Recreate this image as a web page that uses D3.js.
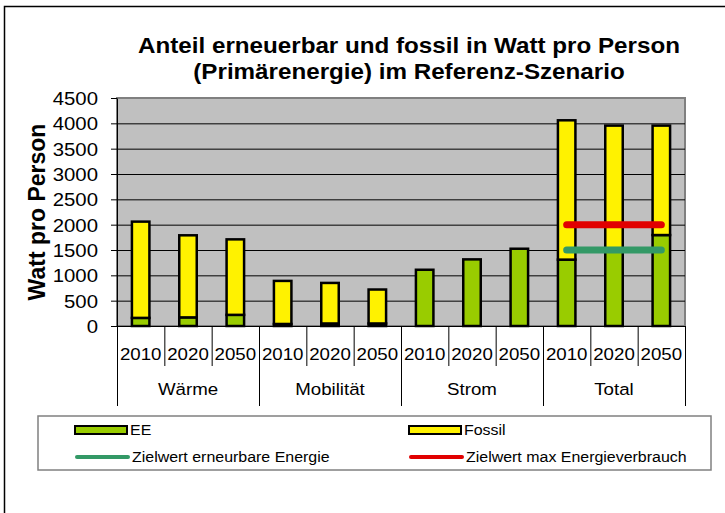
<!DOCTYPE html>
<html lang="de">
<head>
<meta charset="utf-8">
<title>Anteil erneuerbar und fossil in Watt pro Person</title>
<script src="https://cdn.jsdelivr.net/npm/d3@7"></script>
<style>
  body { margin: 0; background: #fff; }
  text { font-family: Arial, "Liberation Sans", sans-serif; fill: #000; }
</style>
</head>
<body>
<div id="chart"></div>
<script>
// Daten
var groups = ["Wärme", "Mobilität", "Strom", "Total"];
var years = ["2010", "2020", "2050"];
var eeValues = [160, 170, 220, 40, 50, 50, 1110, 1315, 1525, 1310, 1535, 1795];
var fossilValues = [1900, 1620, 1490, 850, 800, 670, 0, 0, 0, 2750, 2420, 2160];
var yTicks = [0, 500, 1000, 1500, 2000, 2500, 3000, 3500, 4000, 4500];
var zielGroup = "Total";
var zielEE = 1500;     // Zielwert erneuerbare Energie
var zielMax = 2000;    // Zielwert max Energieverbrauch
var legendLabels = ["EE", "Fossil", "Zielwert erneurbare Energie", "Zielwert max Energieverbrauch"];

var colEE = "#99cc00", colFossil = "#fff200", colZielEE = "#339966", colZielMax = "#e10000";

var W = 725, H = 513;
// Plotfläche (window.top ist reserviert, daher pTop usw.)
var pLeft = 117, pRight = 685, pTop = 98, pBottom = 326;
var SX = 1.1; // Schrift im Original leicht in die Breite gezogen

// Slots aufbauen
var slots = [];
groups.forEach(function(g, gi) {
  years.forEach(function(yr, yi) {
    var i = gi * years.length + yi;
    slots.push({ key: g + "|" + yr, group: g, year: yr, ee: eeValues[i], fossil: fossilValues[i] });
  });
});

var svg = d3.select("#chart").append("svg").attr("width", W).attr("height", H);

// Rahmen (rechts/unten ausserhalb des Bildes)
svg.append("rect").attr("x", 4.5).attr("y", 6.5).attr("width", 800).attr("height", 600)
  .attr("fill", "none").attr("stroke", "#000").attr("stroke-width", 1.5);

var x = d3.scaleBand().domain(slots.map(function(d) { return d.key; })).range([pLeft, pRight]);
var xb = d3.scaleLinear().domain([0, slots.length]).range([pLeft, pRight]);
var xg = d3.scaleBand().domain(groups).range([pLeft, pRight]);
var y = d3.scaleLinear().domain([0, 4500]).range([pBottom, pTop]);

// Plotfläche
svg.append("rect").attr("x", pLeft).attr("y", pTop).attr("width", pRight - pLeft).attr("height", pBottom - pTop)
  .attr("fill", "#c0c0c0").attr("stroke", "#808080").attr("stroke-width", 2);

// Gitterlinien
svg.append("g").attr("transform", "translate(" + pLeft + ",0)")
  .call(d3.axisLeft(y).tickValues(yTicks.filter(function(v) { return v > 0 && v < 4500; }))
    .tickSize(-(pRight - pLeft)).tickFormat(""))
  .call(function(g) { g.select(".domain").remove(); })
  .selectAll("line").attr("stroke", "#000").attr("stroke-width", 1);

// Balken
var bw = 17.5;
var bars = svg.append("g").selectAll("g").data(slots).enter().append("g");
bars.append("rect")
  .attr("x", function(d) { return x(d.key) + (x.bandwidth() - bw) / 2; })
  .attr("y", function(d) { return y(d.ee); })
  .attr("width", bw)
  .attr("height", function(d) { return y(0) - y(d.ee); })
  .attr("fill", colEE).attr("stroke", "#000").attr("stroke-width", 2.5);
bars.filter(function(d) { return d.fossil > 0; }).append("rect")
  .attr("x", function(d) { return x(d.key) + (x.bandwidth() - bw) / 2; })
  .attr("y", function(d) { return y(d.ee + d.fossil); })
  .attr("width", bw)
  .attr("height", function(d) { return y(d.ee) - y(d.ee + d.fossil); })
  .attr("fill", colFossil).attr("stroke", "#000").attr("stroke-width", 2.5);

// Zielwerte
var zielSlots = slots.filter(function(d) { return d.group == zielGroup; });
var zx1 = x(zielSlots[0].key) + x.bandwidth() / 2;
var zx2 = x(zielSlots[zielSlots.length - 1].key) + x.bandwidth() / 2;
[[zielMax, colZielMax], [zielEE, colZielEE]].forEach(function(z) {
  svg.append("line").attr("x1", zx1).attr("x2", zx2).attr("y1", y(z[0])).attr("y2", y(z[0]))
    .attr("stroke", z[1]).attr("stroke-width", 7).attr("stroke-linecap", "round");
});

// Y-Achse
svg.append("g").attr("transform", "translate(" + pLeft + ",0)")
  .call(d3.axisLeft(y).tickValues(yTicks).tickSize(6).tickSizeOuter(0).tickFormat(d3.format("d")))
  .call(function(g) {
    g.selectAll("line, path").attr("stroke", "#000");
    g.selectAll("text").attr("x", 0).attr("dy", "0.35em")
      .attr("transform", "translate(-19,0) scale(" + SX + ",1)")
      .style("font-size", "18.5px").attr("fill", "#000");
  });

// X-Achse: Trennstriche
svg.append("g").attr("transform", "translate(0," + pBottom + ")")
  .call(d3.axisBottom(xb).tickValues(d3.range(0, slots.length + 1)).tickSize(40).tickSizeOuter(0).tickFormat(""))
  .selectAll("line, path").attr("stroke", "#000");
svg.append("g").attr("transform", "translate(0," + pBottom + ")")
  .call(d3.axisBottom(xb).tickValues(d3.range(0, slots.length + 1, years.length)).tickSize(80).tickSizeOuter(0).tickFormat(""))
  .call(function(g) { g.select(".domain").remove(); })
  .selectAll("line").attr("stroke", "#000");

// Jahreszahlen
svg.append("g").attr("transform", "translate(0," + pBottom + ")")
  .call(d3.axisBottom(x).tickSize(0).tickFormat(function(k) { return k.split("|")[1]; }))
  .call(function(g) {
    g.select(".domain").remove();
    g.selectAll("text").attr("y", 0).attr("dy", 0)
      .attr("transform", "translate(0,34) scale(" + SX + ",1)")
      .style("font-size", "17px").attr("fill", "#000");
  });

// Gruppen
svg.append("g").attr("transform", "translate(0," + pBottom + ")")
  .call(d3.axisBottom(xg).tickSize(0))
  .call(function(g) {
    g.select(".domain").remove();
    g.selectAll("text").attr("y", 0).attr("dy", 0)
      .attr("transform", "translate(0,69) scale(" + SX + ",1)")
      .style("font-size", "17px").attr("fill", "#000");
  });

// Titel
var titleLines = ["Anteil erneuerbar und fossil in Watt pro Person", "(Primärenergie) im Referenz-Szenario"];
svg.selectAll("text.title").data(titleLines).enter().append("text").attr("class", "title")
  .attr("transform", function(d, i) { return "translate(409," + (53 + i * 26) + ") scale(" + SX + ",1)"; })
  .attr("text-anchor", "middle").style("font-size", "22px").style("font-weight", "bold")
  .text(function(d) { return d; });

// Y-Titel
svg.append("text")
  .attr("transform", "translate(45," + ((pTop + pBottom) / 2) + ") rotate(-90)")
  .attr("text-anchor", "middle").style("font-size", "23px").style("font-weight", "bold")
  .text("Watt pro Person");

// Legende
svg.append("rect").attr("x", 38).attr("y", 416).attr("width", 711 - 38).attr("height", 54)
  .attr("fill", "#fff").attr("stroke", "#808080").attr("stroke-width", 1.5);
var legX = [75, 409], legY = [430, 457];
var legend = svg.append("g").selectAll("g").data(legendLabels).enter().append("g")
  .attr("transform", function(d, i) { return "translate(" + legX[i % 2] + "," + legY[Math.floor(i / 2)] + ")"; });
legend.filter(function(d, i) { return i < 2; }).append("rect")
  .attr("x", 0).attr("y", -4).attr("width", 52).attr("height", 8)
  .attr("fill", function(d, i) { return i == 0 ? colEE : colFossil; })
  .attr("stroke", "#000").attr("stroke-width", 2);
legend.filter(function(d, i) { return i >= 2; }).append("line")
  .attr("x1", 2).attr("x2", 53).attr("y1", 0).attr("y2", 0)
  .attr("stroke", function(d, i) { return i == 0 ? colZielEE : colZielMax; })
  .attr("stroke-width", 4).attr("stroke-linecap", "round");
legend.append("text")
  .attr("transform", function(d, i) { return "translate(" + (i < 2 ? 55 : 57) + ",5) scale(" + SX + ",1)"; })
  .style("font-size", "14.5px")
  .text(function(d) { return d; });
</script>
</body>
</html>
